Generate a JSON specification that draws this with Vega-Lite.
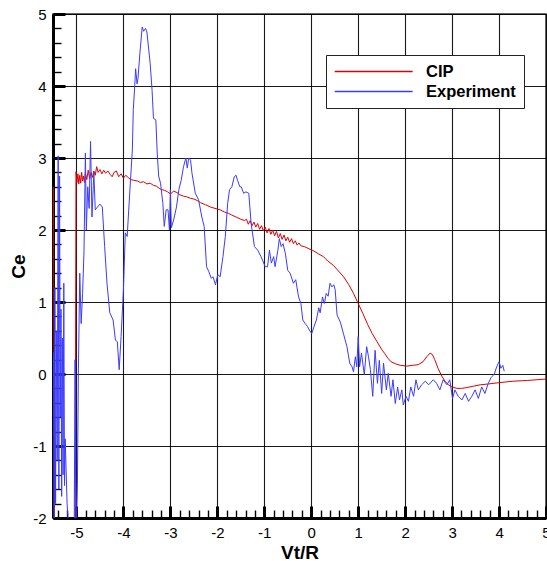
{
  "$schema": "https://vega.github.io/schema/vega-lite/v6.json",
  "width": 493,
  "height": 504,
  "autosize": {"type": "none"},
  "padding": {"left": 53, "top": 14, "right": 1, "bottom": 43},
  "background": "white",
  "config": {"view": {"stroke": "#333333", "strokeWidth": 1.5}, "font": "Liberation Sans"},
  "datasets": {
    "cip": [
      {"x": -5.49, "y": 2.6}, {"x": -5.47, "y": -2.5}, {"x": -5.03, "y": -2.5}, {"x": -5.01, "y": 2.81},
      {"x": -4.99, "y": 2.66}, {"x": -4.97, "y": 2.78}, {"x": -4.95, "y": 2.64}, {"x": -4.93, "y": 2.76},
      {"x": -4.91, "y": 2.65}, {"x": -4.89, "y": 2.8}, {"x": -4.87, "y": 2.68}, {"x": -4.85, "y": 2.75},
      {"x": -4.83, "y": 2.66}, {"x": -4.81, "y": 2.79}, {"x": -4.78, "y": 2.7}, {"x": -4.75, "y": 2.83},
      {"x": -4.72, "y": 2.71}, {"x": -4.69, "y": 2.8}, {"x": -4.66, "y": 2.73}, {"x": -4.63, "y": 2.82},
      {"x": -4.6, "y": 2.76}, {"x": -4.57, "y": 2.88}, {"x": -4.54, "y": 2.8}, {"x": -4.5, "y": 2.84},
      {"x": -4.46, "y": 2.78}, {"x": -4.42, "y": 2.83}, {"x": -4.38, "y": 2.79}, {"x": -4.33, "y": 2.82},
      {"x": -4.28, "y": 2.77}, {"x": -4.24, "y": 2.74}, {"x": -4.2, "y": 2.8}, {"x": -4.15, "y": 2.82},
      {"x": -4.1, "y": 2.74}, {"x": -4.05, "y": 2.78}, {"x": -4.0, "y": 2.72}, {"x": -3.95, "y": 2.76},
      {"x": -3.9, "y": 2.73}, {"x": -3.85, "y": 2.7}, {"x": -3.78, "y": 2.69}, {"x": -3.7, "y": 2.68},
      {"x": -3.64, "y": 2.66}, {"x": -3.57, "y": 2.67}, {"x": -3.5, "y": 2.64}, {"x": -3.43, "y": 2.65},
      {"x": -3.36, "y": 2.62}, {"x": -3.3, "y": 2.61}, {"x": -3.24, "y": 2.58}, {"x": -3.18, "y": 2.56},
      {"x": -3.12, "y": 2.55}, {"x": -3.06, "y": 2.53}, {"x": -3.0, "y": 2.5}, {"x": -2.93, "y": 2.54},
      {"x": -2.86, "y": 2.52}, {"x": -2.8, "y": 2.49}, {"x": -2.72, "y": 2.47}, {"x": -2.65, "y": 2.46},
      {"x": -2.57, "y": 2.44}, {"x": -2.5, "y": 2.43}, {"x": -2.43, "y": 2.41}, {"x": -2.36, "y": 2.38},
      {"x": -2.25, "y": 2.35}, {"x": -2.15, "y": 2.32}, {"x": -2.05, "y": 2.3}, {"x": -1.94, "y": 2.28},
      {"x": -1.85, "y": 2.25}, {"x": -1.76, "y": 2.23}, {"x": -1.7, "y": 2.21}, {"x": -1.6, "y": 2.18},
      {"x": -1.5, "y": 2.15}, {"x": -1.42, "y": 2.13},
      {"x": -1.38, "y": 2.15}, {"x": -1.34, "y": 2.08}, {"x": -1.3, "y": 2.13}, {"x": -1.26, "y": 2.06},
      {"x": -1.22, "y": 2.11}, {"x": -1.18, "y": 2.04}, {"x": -1.14, "y": 2.09}, {"x": -1.1, "y": 2.01},
      {"x": -1.06, "y": 2.06}, {"x": -1.02, "y": 1.99}, {"x": -0.98, "y": 2.04}, {"x": -0.94, "y": 1.96},
      {"x": -0.9, "y": 2.02}, {"x": -0.86, "y": 1.94}, {"x": -0.82, "y": 2.0}, {"x": -0.78, "y": 1.92},
      {"x": -0.74, "y": 1.98}, {"x": -0.7, "y": 1.89}, {"x": -0.66, "y": 1.95}, {"x": -0.62, "y": 1.87},
      {"x": -0.58, "y": 1.93}, {"x": -0.54, "y": 1.85}, {"x": -0.5, "y": 1.9}, {"x": -0.46, "y": 1.83},
      {"x": -0.42, "y": 1.88}, {"x": -0.38, "y": 1.81}, {"x": -0.34, "y": 1.85}, {"x": -0.3, "y": 1.79},
      {"x": -0.26, "y": 1.82}, {"x": -0.22, "y": 1.78},
      {"x": -0.15, "y": 1.77}, {"x": -0.05, "y": 1.74}, {"x": 0.05, "y": 1.71}, {"x": 0.15, "y": 1.67},
      {"x": 0.26, "y": 1.63}, {"x": 0.35, "y": 1.57}, {"x": 0.47, "y": 1.51}, {"x": 0.58, "y": 1.43},
      {"x": 0.69, "y": 1.35}, {"x": 0.8, "y": 1.24}, {"x": 0.9, "y": 1.12}, {"x": 1.0, "y": 0.98},
      {"x": 1.1, "y": 0.84}, {"x": 1.2, "y": 0.69}, {"x": 1.3, "y": 0.56}, {"x": 1.4, "y": 0.45},
      {"x": 1.5, "y": 0.34}, {"x": 1.57, "y": 0.28}, {"x": 1.63, "y": 0.22}, {"x": 1.7, "y": 0.17},
      {"x": 1.8, "y": 0.14}, {"x": 1.9, "y": 0.12}, {"x": 2.04, "y": 0.11}, {"x": 2.15, "y": 0.12},
      {"x": 2.28, "y": 0.13}, {"x": 2.38, "y": 0.17}, {"x": 2.46, "y": 0.24}, {"x": 2.53, "y": 0.29},
      {"x": 2.58, "y": 0.27}, {"x": 2.63, "y": 0.2}, {"x": 2.7, "y": 0.08}, {"x": 2.78, "y": -0.03},
      {"x": 2.85, "y": -0.1}, {"x": 2.92, "y": -0.15}, {"x": 3.0, "y": -0.18}, {"x": 3.1, "y": -0.2},
      {"x": 3.2, "y": -0.2}, {"x": 3.3, "y": -0.19}, {"x": 3.45, "y": -0.17}, {"x": 3.6, "y": -0.15},
      {"x": 3.75, "y": -0.14}, {"x": 4.0, "y": -0.12}, {"x": 4.3, "y": -0.1}, {"x": 4.6, "y": -0.09},
      {"x": 5.0, "y": -0.07}
    ],
    "exp": [
      {"x": -5.49, "y": 0.3}, {"x": -5.475, "y": -2.4}, {"x": -5.46, "y": 1.2}, {"x": -5.445, "y": -1.8},
      {"x": -5.43, "y": 0.6}, {"x": -5.41, "y": -1.2}, {"x": -5.39, "y": 3.03}, {"x": -5.375, "y": -1.6},
      {"x": -5.36, "y": 2.75}, {"x": -5.345, "y": -0.6}, {"x": -5.33, "y": 0.9}, {"x": -5.315, "y": -1.7},
      {"x": -5.3, "y": 0.5}, {"x": -5.285, "y": -1.4}, {"x": -5.27, "y": 1.26}, {"x": -5.255, "y": -1.55},
      {"x": -5.24, "y": -0.9}, {"x": -5.2, "y": -1.8}, {"x": -5.14, "y": -2.4}, {"x": -5.05, "y": -2.4},
      {"x": -5.03, "y": 0.2}, {"x": -5.01, "y": -2.4}, {"x": -4.98, "y": -1.54}, {"x": -4.96, "y": 0.0},
      {"x": -4.93, "y": 1.4}, {"x": -4.9, "y": 0.7}, {"x": -4.87, "y": 1.12}, {"x": -4.84, "y": 1.7},
      {"x": -4.81, "y": 3.07}, {"x": -4.79, "y": 2.0}, {"x": -4.76, "y": 2.6}, {"x": -4.73, "y": 2.3},
      {"x": -4.7, "y": 3.23}, {"x": -4.67, "y": 2.18}, {"x": -4.63, "y": 2.79}, {"x": -4.6, "y": 2.28},
      {"x": -4.55, "y": 2.32}, {"x": -4.5, "y": 2.36}, {"x": -4.45, "y": 2.32}, {"x": -4.4, "y": 1.77},
      {"x": -4.35, "y": 1.26}, {"x": -4.29, "y": 0.85}, {"x": -4.22, "y": 0.75}, {"x": -4.17, "y": 0.47},
      {"x": -4.13, "y": 0.45}, {"x": -4.09, "y": 0.06}, {"x": -4.05, "y": 0.52}, {"x": -4.0, "y": 1.17},
      {"x": -3.96, "y": 1.96}, {"x": -3.92, "y": 1.91}, {"x": -3.85, "y": 2.69}, {"x": -3.81, "y": 3.11},
      {"x": -3.79, "y": 3.67}, {"x": -3.76, "y": 3.99}, {"x": -3.74, "y": 4.24}, {"x": -3.71, "y": 4.03},
      {"x": -3.69, "y": 4.1}, {"x": -3.65, "y": 4.45}, {"x": -3.6, "y": 4.82}, {"x": -3.57, "y": 4.76},
      {"x": -3.53, "y": 4.8}, {"x": -3.5, "y": 4.75}, {"x": -3.46, "y": 4.5}, {"x": -3.43, "y": 4.31},
      {"x": -3.39, "y": 3.94}, {"x": -3.36, "y": 3.55}, {"x": -3.31, "y": 3.53}, {"x": -3.28, "y": 3.07},
      {"x": -3.25, "y": 2.75}, {"x": -3.21, "y": 2.65}, {"x": -3.16, "y": 2.37}, {"x": -3.13, "y": 2.05},
      {"x": -3.09, "y": 2.28}, {"x": -3.05, "y": 2.28}, {"x": -3.02, "y": 2.0}, {"x": -3.0, "y": 2.56},
      {"x": -2.98, "y": 2.03}, {"x": -2.93, "y": 2.14}, {"x": -2.87, "y": 2.32}, {"x": -2.82, "y": 2.56},
      {"x": -2.77, "y": 2.69}, {"x": -2.72, "y": 2.88}, {"x": -2.67, "y": 3.0}, {"x": -2.64, "y": 2.86},
      {"x": -2.61, "y": 3.0}, {"x": -2.57, "y": 2.97}, {"x": -2.54, "y": 2.79}, {"x": -2.47, "y": 2.51},
      {"x": -2.4, "y": 2.42}, {"x": -2.33, "y": 2.18}, {"x": -2.28, "y": 2.05}, {"x": -2.23, "y": 1.49},
      {"x": -2.18, "y": 1.42}, {"x": -2.13, "y": 1.33}, {"x": -2.09, "y": 1.35}, {"x": -2.04, "y": 1.24},
      {"x": -1.99, "y": 1.38}, {"x": -1.94, "y": 1.35}, {"x": -1.88, "y": 1.63}, {"x": -1.83, "y": 1.91},
      {"x": -1.78, "y": 2.37}, {"x": -1.74, "y": 2.56}, {"x": -1.69, "y": 2.6}, {"x": -1.64, "y": 2.74},
      {"x": -1.6, "y": 2.76}, {"x": -1.57, "y": 2.69}, {"x": -1.52, "y": 2.6}, {"x": -1.49, "y": 2.6},
      {"x": -1.44, "y": 2.51}, {"x": -1.39, "y": 2.53}, {"x": -1.33, "y": 2.51}, {"x": -1.28, "y": 2.09},
      {"x": -1.21, "y": 1.77}, {"x": -1.14, "y": 1.72}, {"x": -1.07, "y": 1.63}, {"x": -0.98, "y": 1.49},
      {"x": -0.93, "y": 1.49}, {"x": -0.89, "y": 1.72}, {"x": -0.85, "y": 1.54}, {"x": -0.8, "y": 1.63},
      {"x": -0.77, "y": 1.49}, {"x": -0.71, "y": 1.72}, {"x": -0.68, "y": 1.88}, {"x": -0.64, "y": 1.77},
      {"x": -0.6, "y": 1.81}, {"x": -0.55, "y": 1.67}, {"x": -0.5, "y": 1.44}, {"x": -0.45, "y": 1.4},
      {"x": -0.38, "y": 1.26}, {"x": -0.33, "y": 1.31}, {"x": -0.27, "y": 1.07}, {"x": -0.22, "y": 0.98},
      {"x": -0.18, "y": 0.75}, {"x": -0.13, "y": 0.7}, {"x": -0.08, "y": 0.66}, {"x": -0.04, "y": 0.61},
      {"x": 0.01, "y": 0.56}, {"x": 0.06, "y": 0.66}, {"x": 0.11, "y": 0.75}, {"x": 0.16, "y": 0.92},
      {"x": 0.19, "y": 0.85}, {"x": 0.24, "y": 1.07}, {"x": 0.28, "y": 0.98}, {"x": 0.32, "y": 1.12},
      {"x": 0.36, "y": 1.08}, {"x": 0.4, "y": 1.26}, {"x": 0.44, "y": 1.21}, {"x": 0.48, "y": 1.24},
      {"x": 0.51, "y": 1.17}, {"x": 0.55, "y": 0.82}, {"x": 0.62, "y": 0.72}, {"x": 0.69, "y": 0.55},
      {"x": 0.76, "y": 0.38}, {"x": 0.82, "y": 0.15}, {"x": 0.87, "y": 0.1}, {"x": 0.9, "y": 0.03},
      {"x": 0.94, "y": 0.24}, {"x": 0.97, "y": 0.1}, {"x": 1.0, "y": 0.52}, {"x": 1.03, "y": 0.1},
      {"x": 1.07, "y": 0.29}, {"x": 1.13, "y": -0.01}, {"x": 1.18, "y": 0.38}, {"x": 1.22, "y": 0.24},
      {"x": 1.26, "y": 0.06}, {"x": 1.31, "y": -0.31}, {"x": 1.36, "y": 0.33}, {"x": 1.41, "y": -0.13},
      {"x": 1.45, "y": 0.19}, {"x": 1.5, "y": -0.27}, {"x": 1.54, "y": 0.15}, {"x": 1.6, "y": -0.22},
      {"x": 1.64, "y": 0.01}, {"x": 1.7, "y": -0.31}, {"x": 1.74, "y": -0.08}, {"x": 1.79, "y": -0.41},
      {"x": 1.84, "y": -0.18}, {"x": 1.88, "y": -0.36}, {"x": 1.93, "y": -0.22}, {"x": 1.96, "y": -0.43},
      {"x": 2.02, "y": -0.31}, {"x": 2.07, "y": -0.38}, {"x": 2.12, "y": -0.18}, {"x": 2.18, "y": -0.31},
      {"x": 2.23, "y": -0.08}, {"x": 2.28, "y": -0.22}, {"x": 2.35, "y": -0.15}, {"x": 2.43, "y": -0.1},
      {"x": 2.5, "y": -0.15}, {"x": 2.6, "y": -0.08}, {"x": 2.67, "y": -0.13}, {"x": 2.74, "y": -0.22},
      {"x": 2.81, "y": -0.08}, {"x": 2.89, "y": -0.15}, {"x": 2.95, "y": -0.08}, {"x": 3.01, "y": -0.34},
      {"x": 3.06, "y": -0.22}, {"x": 3.13, "y": -0.31}, {"x": 3.21, "y": -0.36}, {"x": 3.28, "y": -0.27},
      {"x": 3.35, "y": -0.38}, {"x": 3.42, "y": -0.31}, {"x": 3.49, "y": -0.22}, {"x": 3.56, "y": -0.34},
      {"x": 3.63, "y": -0.18}, {"x": 3.7, "y": -0.27}, {"x": 3.77, "y": -0.13}, {"x": 3.83, "y": -0.05},
      {"x": 3.9, "y": 0.0}, {"x": 3.95, "y": 0.1}, {"x": 4.0, "y": 0.17}, {"x": 4.04, "y": 0.08},
      {"x": 4.08, "y": 0.12}, {"x": 4.11, "y": 0.04}
    ]
  },
  "layer": [
    {
      "data": {"name": "cip"},
      "transform": [{"calculate": "'CIP'", "as": "s"}],
      "mark": {"type": "line", "clip": true, "strokeWidth": 1},
      "encoding": {
        "x": {
          "field": "x", "type": "quantitative",
          "scale": {"domain": [-5.5, 5], "nice": false, "zero": false},
          "axis": {
            "orient": "bottom",
            "title": "Vt/R", "titleFont": "Liberation Sans", "titleFontSize": 19, "titleFontWeight": "bold", "titleColor": "black", "titlePadding": 3,
            "values": [-5, -4, -3, -2, -1, 0, 1, 2, 3, 4, 5],
            "labelExpr": "'' + round(datum.value)",
            "labelFont": "Liberation Sans", "labelFontSize": 15, "labelColor": "black", "labelPadding": 19,
            "labelOverlap": false, "labelFlush": false, "labelBound": false,
            "ticks": true, "tickSize": -12, "tickWidth": 3, "tickColor": "black",
            "grid": true, "gridColor": "black", "gridWidth": 1.1, "gridOpacity": 0.9,
            "domainColor": "black", "domainWidth": 3
          }
        },
        "y": {
          "field": "y", "type": "quantitative",
          "scale": {"domain": [-2, 5], "nice": false, "zero": false},
          "axis": {
            "orient": "left",
            "title": "Ce", "titleFont": "Liberation Sans", "titleFontSize": 19, "titleFontWeight": "bold", "titleColor": "black", "titlePadding": 4,
            "values": [-2, -1, 0, 1, 2, 3, 4, 5],
            "labelExpr": "'' + round(datum.value)",
            "labelFont": "Liberation Sans", "labelFontSize": 15, "labelColor": "black", "labelPadding": 19,
            "labelOverlap": false, "labelFlush": false, "labelBound": false,
            "ticks": true, "tickSize": -12, "tickWidth": 3, "tickColor": "black",
            "grid": true, "gridColor": "black", "gridWidth": 1.1, "gridOpacity": 0.9,
            "domainColor": "black", "domainWidth": 3
          }
        },
        "color": {
          "field": "s", "type": "nominal",
          "scale": {"domain": ["CIP", "Experiment"], "range": ["#dd0000", "#3b3bff"]},
          "legend": {
            "orient": "none", "legendX": 273, "legendY": 41, "title": null,
            "symbolType": "M-1,0H9", "symbolSize": 243, "symbolStrokeWidth": 1.3,
            "labelFont": "Liberation Sans", "labelFontSize": 16.5, "labelFontWeight": "bold", "labelColor": "black",
            "labelOffset": 75, "labelLimit": 300, "padding": 8, "rowPadding": 3,
            "strokeColor": "#222222", "fillColor": "white"
          }
        }
      }
    },
    {
      "data": {"name": "exp"},
      "transform": [{"calculate": "'Experiment'", "as": "s"}],
      "mark": {"type": "line", "clip": true, "strokeWidth": 1},
      "encoding": {
        "x": {
          "field": "x", "type": "quantitative",
          "axis": {
            "orient": "top", "offset": -504, "title": null, "labels": false, "domain": false, "grid": false,
            "values": [-5.4,-5.2,-4.8,-4.6,-4.4,-4.2,-3.8,-3.6,-3.4,-3.2,-2.8,-2.6,-2.4,-2.2,-1.8,-1.6,-1.4,-1.2,-0.8,-0.6,-0.4,-0.2,0.2,0.4,0.6,0.8,1.2,1.4,1.6,1.8,2.2,2.4,2.6,2.8,3.2,3.4,3.6,3.8,4.2,4.4,4.6,4.8],
            "ticks": true, "tickColor": "black", "tickSize": 8, "tickWidth": 1.4
          }
        },
        "y": {
          "field": "y", "type": "quantitative",
          "axis": {
            "orient": "right", "offset": -493, "title": null, "labels": false, "domain": false, "grid": false,
            "values": [-1.8,-1.6,-1.4,-1.2,-0.8,-0.6,-0.4,-0.2,0.2,0.4,0.6,0.8,1.2,1.4,1.6,1.8,2.2,2.4,2.6,2.8,3.2,3.4,3.6,3.8,4.2,4.4,4.6,4.8],
            "ticks": true, "tickColor": "black", "tickSize": 8, "tickWidth": 1.4
          }
        },
        "color": {"field": "s", "type": "nominal"}
      }
    }
  ],
  "resolve": {"axis": {"x": "independent", "y": "independent"}}
}
